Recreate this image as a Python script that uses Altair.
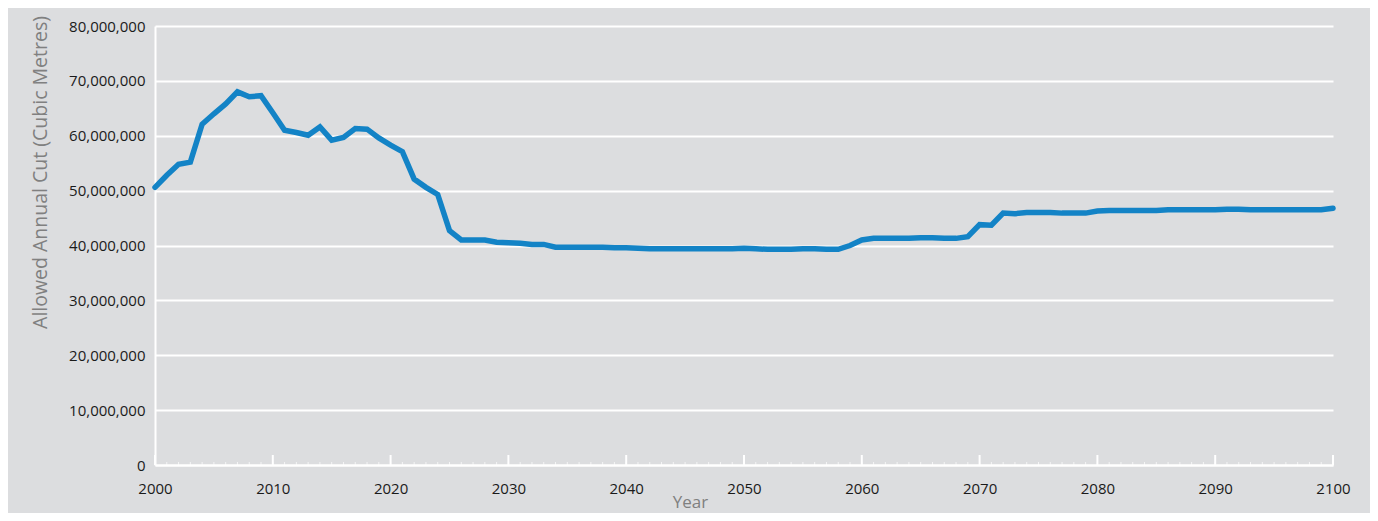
import altair as alt
import pandas as pd

years = list(range(2000, 2101))
cut_millions = [
    50.6, 52.8, 54.8, 55.2, 62.1, 64.0, 65.8, 68.0, 67.1, 67.3,
    64.2, 61.0, 60.6, 60.1, 61.6, 59.2, 59.7, 61.3, 61.2, 59.6,
    58.3, 57.1, 52.1, 50.6, 49.3, 42.7, 41.0, 41.0, 41.0, 40.6,
    40.5, 40.4, 40.2, 40.2, 39.7, 39.7, 39.7, 39.7, 39.7, 39.6,
    39.6, 39.5, 39.4, 39.4, 39.4, 39.4, 39.4, 39.4, 39.4, 39.4,
    39.5, 39.4, 39.3, 39.3, 39.3, 39.4, 39.4, 39.3, 39.3, 40.0,
    41.0, 41.3, 41.3, 41.3, 41.3, 41.4, 41.4, 41.3, 41.3, 41.6,
    43.8, 43.7, 45.9, 45.8, 46.0, 46.0, 46.0, 45.9, 45.9, 45.9,
    46.3, 46.4, 46.4, 46.4, 46.4, 46.4, 46.5, 46.5, 46.5, 46.5,
    46.5, 46.6, 46.6, 46.5, 46.5, 46.5, 46.5, 46.5, 46.5, 46.5,
    46.8,
]
major_ticks = list(range(2000, 2101, 10))
y_ticks = list(range(0, 80000001, 10000000))

df = pd.DataFrame({"Year": years, "Cut": [v * 1e6 for v in cut_millions]})
df_major = pd.DataFrame({"Year": major_ticks})
df_minor = pd.DataFrame({"Year": years})

W, H = 1178, 439
FONT = "Open Sans"

x_scale = alt.Scale(domain=[2000, 2100], nice=False, zero=False)
y_scale = alt.Scale(domain=[0, 80000000], nice=False)

line = alt.Chart(df).mark_line(
    color="#1383C6", strokeWidth=5.5, strokeJoin="miter", strokeCap="round"
).encode(
    x=alt.X(
        "Year:Q",
        scale=x_scale,
        axis=alt.Axis(
            values=major_ticks,
            format="d",
            grid=False,
            ticks=False,
            domainColor="white",
            domainWidth=2,
            labelFont=FONT,
            labelFontSize=15,
            labelColor="#1a1a1a",
            labelPadding=16,
            labelFlush=False,
            title="Year",
            titleFont=FONT,
            titleFontSize=17,
            titleFontWeight="normal",
            titleColor="#808080",
            titleX=535,
            titleY=42,
            titleBaseline="alphabetic",
            titleAlign="center",
        ),
    ),
    y=alt.Y(
        "Cut:Q",
        scale=y_scale,
        axis=alt.Axis(
            values=y_ticks,
            format=",d",
            grid=True,
            gridColor="white",
            gridWidth=2,
            ticks=False,
            domainColor="white",
            domainWidth=2,
            labelFont=FONT,
            labelFontSize=15,
            labelColor="#1a1a1a",
            labelPadding=10,
            title="Allowed Annual Cut (Cubic Metres)",
            titleFont=FONT,
            titleFontSize=19.5,
            titleFontWeight="normal",
            titleColor="#808080",
            titleX=-115,
            titleY=146,
            titleAngle=-90,
            titleAlign="center",
            titleBaseline="middle",
        ),
    ),
)

major = alt.Chart(df_major).mark_rule(color="white", strokeWidth=2).encode(
    x=alt.X("Year:Q", scale=x_scale),
    y=alt.value(H),
    y2=alt.value(H - 10),
)

minor = alt.Chart(df_minor).mark_rule(color="white", strokeWidth=1, opacity=0.7).encode(
    x=alt.X("Year:Q", scale=x_scale),
    y=alt.value(H),
    y2=alt.value(H - 3),
)

chart = alt.layer(minor, major, line).properties(
    width=W,
    height=H,
    background="#DCDDDF",
    padding={"left": 147, "top": 18, "right": 37, "bottom": 48},
    autosize=alt.AutoSizeParams(type="none"),
).configure_view(stroke=None)

chart.save("out.html", embed_options={"renderer": "svg", "actions": False})
